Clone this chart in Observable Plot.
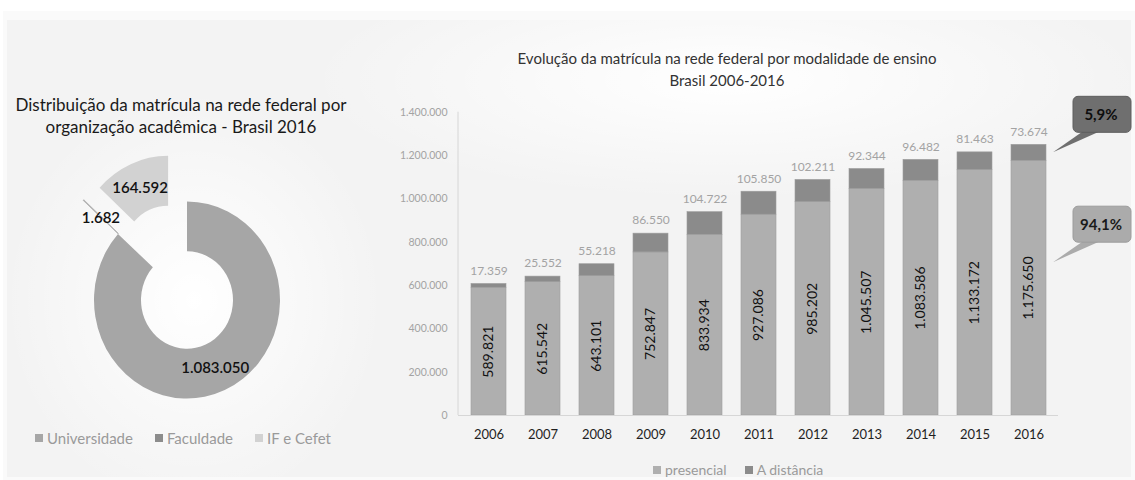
<!DOCTYPE html>
<html><head><meta charset="utf-8">
<script src="https://cdn.jsdelivr.net/npm/d3@7"></script>
<script src="https://cdn.jsdelivr.net/npm/@observablehq/plot@0.6"></script>
<style>
html,body{margin:0;padding:0;background:#fff;}
#root{position:relative;width:1135px;height:480px;overflow:hidden;font-family:Lato,"Open Sans",sans-serif;}
.panel{position:absolute;left:3px;top:11px;right:0;bottom:0;background:#fafafa;}
.inner{position:absolute;left:7px;top:20px;right:4px;bottom:3px;
  background:
    radial-gradient(ellipse 190px 210px at 187px 280px, #ffffff 0%, rgba(255,255,255,0) 100%),
    radial-gradient(ellipse 420px 120px at 720px 60px, #ffffff 0%, rgba(255,255,255,0) 100%),
    #f3f3f3;}
.abs{position:absolute;}
.title-l{left:0;width:362px;top:94px;text-align:center;font-size:17px;line-height:21.5px;color:#1a1a1a;}
.title-r{left:427px;width:600px;top:47px;text-align:center;font-size:15px;line-height:22px;color:#333;}
.legend{display:flex;align-items:center;color:#9a9a9a;white-space:nowrap;}
.legend .sw{display:inline-block;width:8px;height:8px;margin-right:4px;}
.legend .it{display:flex;align-items:center;}
#legL{left:35px;top:429px;font-size:15px;line-height:18px;gap:22px;}
#legR{left:653px;top:462px;font-size:14px;line-height:16px;gap:18px;}
svg{position:absolute;left:0;top:0;overflow:visible;}
</style></head><body>
<div id="root">
  <div class="panel"></div>
  <div class="inner"></div>
  <div id="donut"></div>
  <div id="bars"></div>
  <div class="abs title-l">Distribuição da matrícula na rede federal por<br>organização acadêmica - Brasil 2016</div>
  <div class="abs title-r">Evolução da matrícula na rede federal por modalidade de ensino<br>Brasil 2006-2016</div>
  <div class="abs legend" id="legL"></div>
  <div class="abs legend" id="legR"></div>
</div>
<script>
// ---------- data ----------
const orgs = ["Universidade", "Faculdade", "IF e Cefet"];
const matriculas = [1083050, 1682, 164592];

const years = ["2006","2007","2008","2009","2010","2011","2012","2013","2014","2015","2016"];
const series = ["presencial", "A distância"];
const presencial = [589821, 615542, 643101, 752847, 833934, 927086, 985202, 1045507, 1083586, 1133172, 1175650];
const distancia = [17359, 25552, 55218, 86550, 104722, 105850, 102211, 92344, 96482, 81463, 73674];
const yTicks = [0, 200000, 400000, 600000, 800000, 1000000, 1200000, 1400000];

// ---------- styles ----------
const orgColors = ["#a6a6a6", "#8c8c8c", "#d2d2d2"];
const serieColors = ["#afafaf", "#8b8b8b"];
const exploded = new Set(["Faculdade", "IF e Cefet"]);

const locale = d3.formatLocale({decimal: ",", thousands: ".", grouping: [3], currency: ["R$", ""]});
const fmt = locale.format(",d");
const pct = locale.format(".1%");

// ---------- donut ----------
const donutData = orgs.map((o, i) => ({org: o, value: matriculas[i]}));
function donutMark(index, scales, values, dims) {
  const cx = 187, cy = 300, sy = 1.06, rIn = 46, rOut = 93, explode = 47;
  const g = d3.create("svg:g");
  const arcs = d3.pie().sort(null).value(d => d.value)(donutData);
  const arc = d3.arc().innerRadius(rIn).outerRadius(rOut);
  const offs = arcs.map(a => {
    const m = (a.startAngle + a.endAngle) / 2;
    const e = exploded.has(a.data.org) ? explode : 0;
    return [Math.sin(m) * e, -Math.cos(m) * e];
  });
  const shapes = g.append("g").attr("transform", `translate(${cx},${cy}) scale(1,${sy})`);
  arcs.forEach((a, i) => {
    shapes.append("path")
      .attr("d", arc(a))
      .attr("transform", `translate(${offs[i][0]},${offs[i][1]})`)
      .attr("fill", orgColors[orgs.indexOf(a.data.org)])
      .attr("stroke", exploded.has(a.data.org) && a.data.value < 10000 ? "#b8b8b8" : "none")
      .attr("stroke-width", 1 / sy);
  });
  arcs.forEach((a, i) => {
    const [x, y] = arc.centroid(a);
    g.append("text")
      .attr("x", cx + x + offs[i][0])
      .attr("y", cy + (y + offs[i][1]) * sy)
      .attr("text-anchor", "middle")
      .attr("dominant-baseline", "central")
      .attr("font-size", 15)
      .attr("font-weight", 600)
      .attr("fill", "#111")
      .text(fmt(a.data.value));
  });
  return g.node();
}
const donut = Plot.plot({
  width: 380, height: 480, margin: 0,
  style: {background: "transparent", fontFamily: "Lato, sans-serif", overflow: "visible"},
  x: {axis: null, domain: [0, 1]}, y: {axis: null, domain: [0, 1]},
  marks: [donutMark]
});
document.getElementById("donut").appendChild(donut);

// ---------- bars ----------
const rows = years.flatMap((y, i) => [
  {year: y, serie: series[0], value: presencial[i]},
  {year: y, serie: series[1], value: distancia[i]}
]);
const presRows = years.map((y, i) => ({year: y, value: presencial[i]}));
const totRows = years.map((y, i) => ({year: y, total: presencial[i] + distancia[i], dist: distancia[i]}));

function vAxisLine(index, scales, values, dims) {
  const g = d3.create("svg:g");
  g.append("line")
    .attr("x1", dims.marginLeft).attr("x2", dims.marginLeft)
    .attr("y1", dims.marginTop).attr("y2", dims.height - dims.marginBottom)
    .attr("stroke", "#d6d6d6");
  return g.node();
}
function callouts(index, scales, values, dims) {
  const g = d3.create("svg:g");
  const i = years.length - 1;
  const bw = scales.x.bandwidth ? scales.x.bandwidth() : 35;
  const tipX = scales.x(years[i]) + bw + 7;
  const total = presencial[i] + distancia[i];
  const items = [
    {text: pct(distancia[i] / total), y: scales.y(presencial[i] + distancia[i] / 2), fill: "#6f6f6f", stroke: "#5e5e5e", tfill: "#0d0d0d"},
    {text: pct(presencial[i] / total), y: scales.y(presencial[i] * 0.6), fill: "#ababab", stroke: "#9c9c9c", tfill: "#1a1a1a"}
  ];
  items.forEach(it => {
    const bx = tipX + 20, by = it.y - 56, w = 58, h = 36;
    g.append("path")
      .attr("d", `M${bx + 10},${by + h - 1}L${tipX},${it.y}L${bx + 27},${by + h - 1}Z`)
      .attr("fill", it.fill);
    g.append("rect")
      .attr("x", bx).attr("y", by).attr("width", w).attr("height", h)
      .attr("rx", 5).attr("fill", it.fill).attr("stroke", it.stroke);
    g.append("text")
      .attr("x", bx + w / 2 - 1).attr("y", by + h / 2)
      .attr("text-anchor", "middle").attr("dominant-baseline", "central")
      .attr("font-size", 15).attr("font-weight", 700).attr("fill", it.tfill)
      .text(it.text);
  });
  return g.node();
}

const bars = Plot.plot({
  width: 1135, height: 480,
  marginLeft: 458, marginRight: 77, marginTop: 111.7, marginBottom: 65,
  style: {background: "transparent", fontFamily: "Lato, sans-serif", overflow: "visible"},
  x: {domain: years, paddingInner: 0.36, paddingOuter: 0.17, label: null},
  y: {domain: [0, 1400000], label: null},
  color: {domain: series, range: serieColors},
  marks: [
    Plot.axisY({ticks: yTicks, tickFormat: fmt, tickSize: 0, tickPadding: 11, fill: "#a3a3a3", fontSize: 10.5, label: null}),
    Plot.axisX({tickSize: 0, tickPadding: 14, fill: "#1f1f1f", fontSize: 13, label: null}),
    Plot.barY(rows, {x: "year", y: "value", fill: "serie", stroke: "#9d9d9d", strokeWidth: 0.6}),
    Plot.ruleY([0], {stroke: "#d6d6d6"}),
    vAxisLine,
    Plot.text(presRows, {x: "year", y: d => d.value / 2, text: d => fmt(d.value), rotate: -90, fontSize: 14, fill: "#111"}),
    Plot.text(totRows, {x: "year", y: "total", text: d => fmt(d.dist), dy: -13, fontSize: 12, fill: "#a3a3a3"}),
    callouts
  ]
});
document.getElementById("bars").appendChild(bars);

// ---------- legends ----------
const legL = document.getElementById("legL");
orgs.forEach((o, i) => {
  const it = document.createElement("span"); it.className = "it";
  it.innerHTML = `<span class="sw" style="background:${orgColors[i]}"></span>${o}`;
  legL.appendChild(it);
});
const legR = document.getElementById("legR");
series.forEach((s, i) => {
  const it = document.createElement("span"); it.className = "it";
  it.innerHTML = `<span class="sw" style="background:${serieColors[i]}"></span>${s}`;
  legR.appendChild(it);
});
</script>
</body></html>
